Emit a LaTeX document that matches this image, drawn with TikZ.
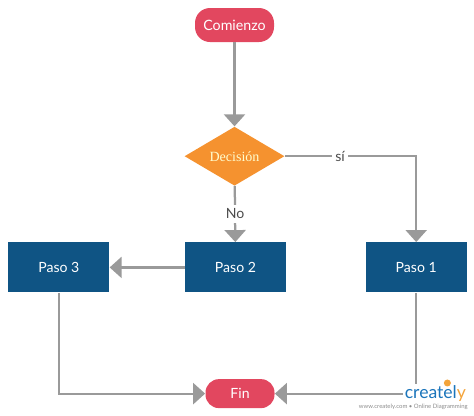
\documentclass[tikz,border=0pt]{standalone}
\usepackage{fontspec}
\setmainfont{Lato}
\newfontfamily\decfont{Liberation Serif}
\usetikzlibrary{shapes.geometric,arrows.meta,positioning}
\definecolor{startred}{HTML}{E2475F}
\definecolor{decorange}{HTML}{F5922F}
\definecolor{stepblue}{HTML}{0F5484}
\definecolor{linegray}{HTML}{9A9A9A}
\definecolor{logoblue}{HTML}{1B75BB}
\definecolor{logoorange}{HTML}{F4A43A}

\begin{document}
\begin{tikzpicture}[
    terminal/.style={rectangle, fill=startred, text=white, align=center, inner sep=0pt,
                     minimum height=0.68cm, rounded corners=0.3cm, font=\fontsize{8.1}{10}\selectfont},
    decision/.style={diamond, fill=decorange, text=yellow!20, aspect=1.7, inner sep=0pt,
                     minimum width=2cm, minimum height=1.18cm, font=\decfont\fontsize{8}{10}\selectfont},
    stepbox/.style={rectangle, fill=stepblue, text=white, minimum width=2.02cm, minimum height=1cm,
                    inner sep=0pt, font=\fontsize{8}{10}\selectfont},
    edgelabel/.style={fill=white, text=black!70, inner sep=2pt, font=\fontsize{8}{10}\selectfont},
    arrow/.style={-{Triangle[length=0.24cm,width=0.42cm]}, line width=0.045cm, draw=linegray}
]
\useasboundingbox (0,0) rectangle (9.48,-8.3);
\node[terminal, minimum width=1.58cm] (start) at (4.69,-0.5) {Comienzo};
\node[decision, below=1.68cm of start] (decide) {Decisión};
\node[stepbox, below=1.12cm of decide, xshift=0.02cm] (step2) {Paso 2};
\node[stepbox, left=1.5cm of step2] (step3) {Paso 3};
\node[stepbox, right=1.58cm of step2] (step1) {Paso 1};
\node[terminal, minimum width=1.38cm, minimum height=0.58cm, rounded corners=0.27cm,
      font=\fontsize{8}{10}\selectfont, below=1.72cm of step2, xshift=0.09cm] (stop) {Fin};
\draw[arrow] (start) -- (decide);
\draw[arrow] (decide) -- node[edgelabel, pos=0.5] {No} (step2);
\draw[arrow] (decide) -| node[edgelabel, pos=0.21] {sí} (step1);
\draw[arrow] (step2) -- (step3);
\draw[arrow] (step3) |- (stop);
\draw[arrow] (step1) |- (stop);
% logo
\node[fill=white, inner sep=1pt, text=logoblue, font=\fontsize{10}{12}\selectfont, anchor=south east] (logo)
    at (9.36,-8.07) {createl\textcolor{logoorange}{y}};
\node[circle, fill=logoorange, minimum size=0.14cm, inner sep=0pt, above=-0.07cm of logo, xshift=0.24cm] (bulb) {};
\node[text=black!45, inner sep=0pt, font=\fontsize{3.4}{4}\selectfont, below=0.01cm of logo.south east, anchor=north east] (tagline)
    {www.creately.com • Online Diagramming};
\end{tikzpicture}
\end{document}
